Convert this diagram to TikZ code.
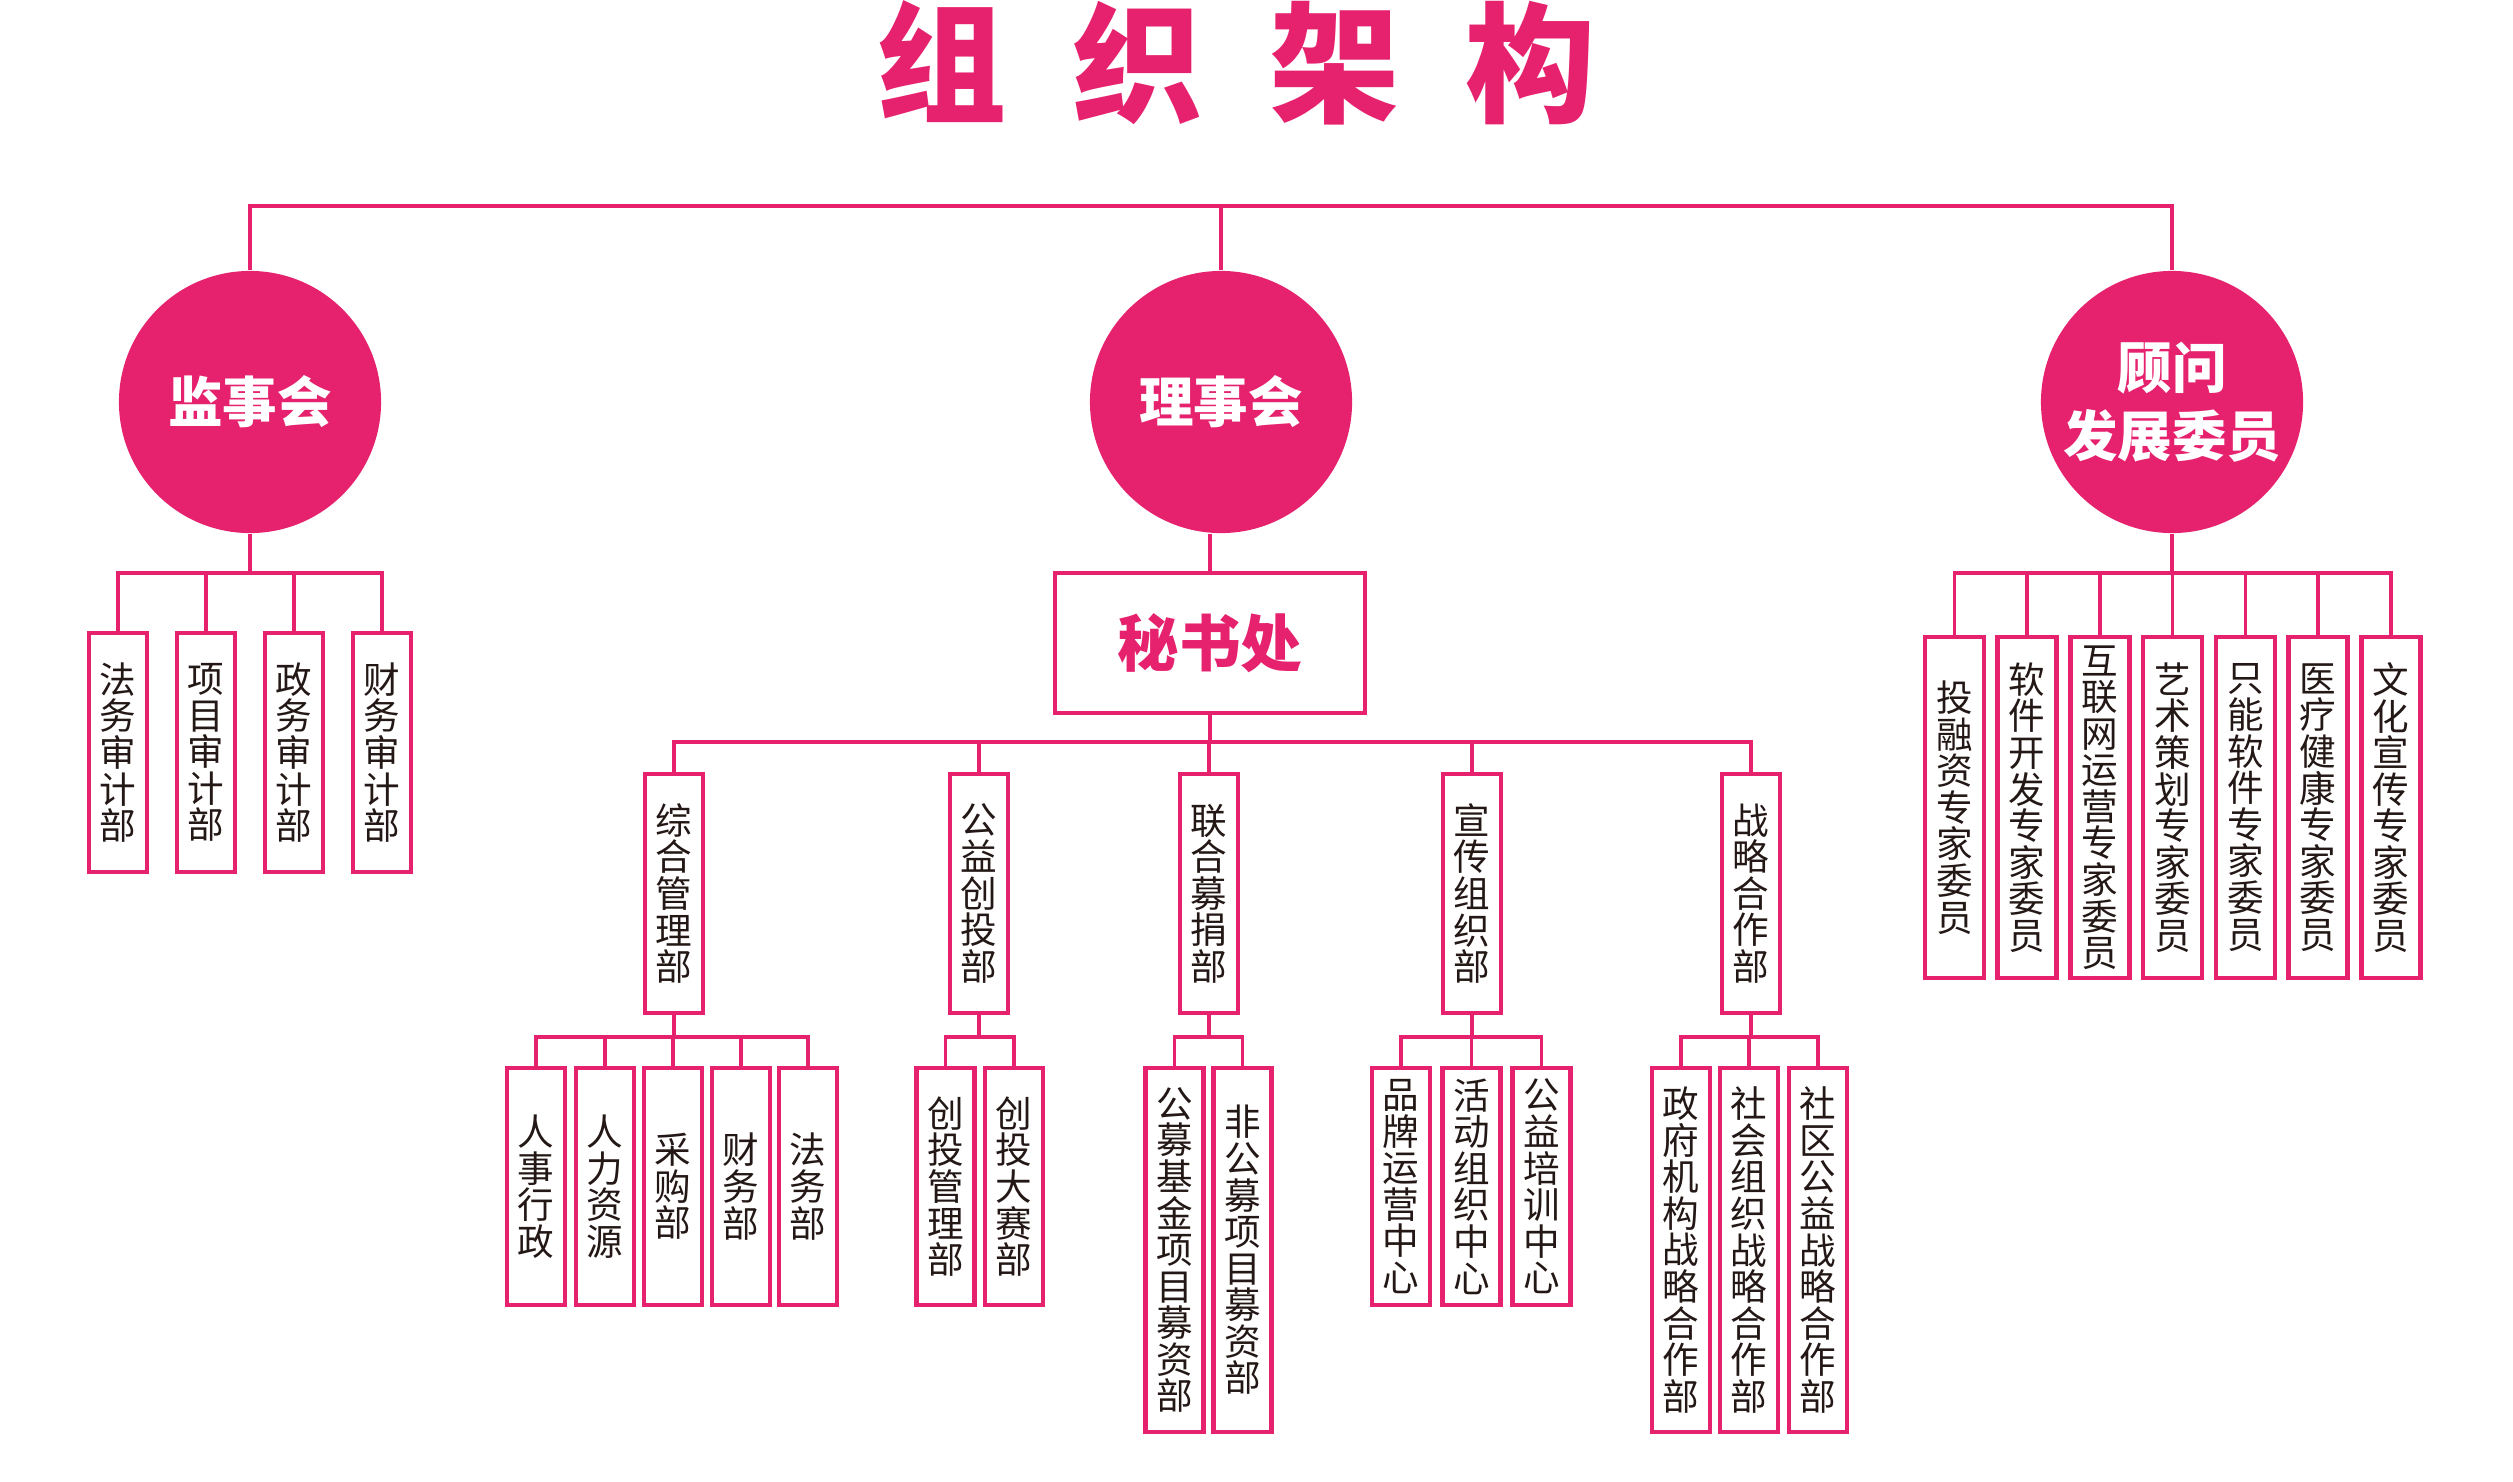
\documentclass[tikz,border=0pt]{standalone}
\usepackage{fontspec}
\setmainfont{Noto Sans CJK SC}
\definecolor{pk}{RGB}{230,33,110}
\definecolor{ink}{RGB}{35,24,21}
\ExplSyntaxOn
\NewDocumentCommand\vt{m}{
  \vbox{
    \lineskiplimit=-20pt
    \tl_map_inline:nn {#1} { \hbox_to_wd:nn {1em} { \hfil ##1 \hfil } }
  }
}
\ExplSyntaxOff
\tikzset{
  conn/.style={draw=pk, line width=1.1pt},
  topconn/.style={draw=pk, line width=1pt},
  bx/.style={draw=pk, line width=1.2pt, fill=white, inner sep=0pt, minimum width=0.58cm, text=ink,
    font=\fontsize{10.4pt}{10.4pt}\selectfont},
  bxl/.style={bx, minimum height=2.39cm},
  bxr/.style={bx, minimum height=3.41cm, minimum width=0.59cm},
  bxs/.style={bx, minimum height=2.37cm},
  bxg/.style={bx, minimum height=3.64cm},
  circ/.style={circle, fill=pk, minimum size=2.62cm, inner sep=0pt, text=white, align=center,
    font=\bfseries\fontsize{15.5pt}{19.3pt}\selectfont},
  sec/.style={draw=pk, line width=1.2pt, minimum width=3.10cm, minimum height=1.40cm, text=pk,
    font=\bfseries\fontsize{17.5pt}{17.5pt}\selectfont},
  ttl/.style={text=pk, inner sep=0pt, font=\bfseries\fontsize{37pt}{37pt}\selectfont}
}
\begin{document}
\begin{tikzpicture}[x=0.01cm, y=-0.01cm]
\useasboundingbox (0,0) rectangle (2513,1481);
% title
\node[ttl] (title) at (1236,63) {组\hspace{0.66cm}织\hspace{0.66cm}架\hspace{0.66cm}构};
% circles
\node[circ] (cL) at (250,402) {监事会};
\node[circ] (cM) at (1221,402) {理事会};
\node[circ] (cR) at (2172,402) {顾问\\发展委员};
\coordinate (topbus) at (0,206);
\draw[topconn] (cL.north) -- (cL.north |- topbus) -| (cR.north);
\draw[topconn] (cM.north) -- (cM.north |- topbus);
% left group
\coordinate (busL) at (0,573);
\node[bxl] (L1) at (118,752.5) {\vt{法务审计部}};
\node[bxl] (L2) at (206,752.5) {\vt{项目审计部}};
\node[bxl] (L3) at (294,752.5) {\vt{政务审计部}};
\node[bxl] (L4) at (382,752.5) {\vt{财务审计部}};
\draw[conn] (cL.south) -- (cL.south |- busL);
\draw[conn] (L1.north) -- (L1.north |- busL) -| (L4.north);
\draw[conn] (L2.north) -- (L2.north |- busL);
\draw[conn] (L3.north) -- (L3.north |- busL);
% right group
\coordinate (busR) at (0,573);
\node[bxr] (R1) at (1954.5,807.5) {\vt{投融资专家委员}};
\node[bxr] (R2) at (2027,807.5) {\vt{软件开发专家委员}};
\node[bxr] (R3) at (2100,807.5) {\vt{互联网运营专家委员}};
\node[bxr] (R4) at (2172.5,807.5) {\vt{艺术策划专家委员}};
\node[bxr] (R5) at (2245.5,807.5) {\vt{只能软件专家委员}};
\node[bxr] (R6) at (2318,807.5) {\vt{医疗健康专家委员}};
\node[bxr] (R7) at (2391,807.5) {\vt{文化宣传专家委员}};
\draw[conn] (cR.south) -- (cR.south |- busR);
\draw[conn] (R1.north) -- (R1.north |- busR) -| (R7.north);
\foreach \n in {R2,R3,R4,R5,R6} \draw[conn] (\n.north) -- (\n.north |- busR);
% secretariat
\node[sec] (S) at (1210,643) {秘书处};
\draw[conn] (S.north) -- (S.north |- cM.south);
\coordinate (busM) at (0,742);
\node[bxl] (M1) at (674,893.5) {\vt{综合管理部}};
\node[bxl] (M2) at (979,893.5) {\vt{公益创投部}};
\node[bxl] (M3) at (1209,893.5) {\vt{联合募捐部}};
\node[bxl] (M4) at (1472,893.5) {\vt{宣传组织部}};
\node[bxl] (M5) at (1751,893.5) {\vt{战略合作部}};
\draw[conn] (S.south) -- (S.south |- busM);
\draw[conn] (M1.north) -- (M1.north |- busM) -| (M5.north);
\foreach \n in {M2,M3,M4} \draw[conn] (\n.north) -- (\n.north |- busM);
% tier 3
\coordinate (bus3) at (0,1037);
\node[bxs] (A1) at (536,1186.5) {\vt{人事行政}};
\node[bxs] (A2) at (605,1186.5) {\vt{人力资源}};
\node[bxs] (A3) at (673,1186.5) {\vt{采购部}};
\node[bxs] (A4) at (741,1186.5) {\vt{财务部}};
\node[bxs] (A5) at (808,1186.5) {\vt{法务部}};
\draw[conn] (M1.south) -- (M1.south |- bus3);
\draw[conn] (A1.north) -- (A1.north |- bus3) -| (A5.north);
\foreach \n in {A2,A3,A4} \draw[conn] (\n.north) -- (\n.north |- bus3);
\node[bxs] (B1) at (945.5,1186.5) {\vt{创投管理部}};
\node[bxs] (B2) at (1014,1186.5) {\vt{创投大赛部}};
\draw[conn] (M2.south) -- (M2.south |- bus3);
\draw[conn] (B1.north) -- (B1.north |- bus3) -| (B2.north);
\node[bxg] (C1) at (1174.5,1250) {\vt{公募基金项目募资部}};
\node[bxg] (C2) at (1242.5,1250) {\vt{非公募项目募资部}};
\draw[conn] (M3.south) -- (M3.south |- bus3);
\draw[conn] (C1.north) -- (C1.north |- bus3) -| (C2.north);
\node[bxs] (D1) at (1401,1186.5) {\vt{品牌运营中心}};
\node[bxs] (D2) at (1471.5,1186.5) {\vt{活动组织中心}};
\node[bxs] (D3) at (1541.5,1186.5) {\vt{公益培训中心}};
\draw[conn] (M4.south) -- (M4.south |- bus3);
\draw[conn] (D1.north) -- (D1.north |- bus3) -| (D3.north);
\draw[conn] (D2.north) -- (D2.north |- bus3);
\node[bxg] (E1) at (1681,1250) {\vt{政府机构战略合作部}};
\node[bxg] (E2) at (1749,1250) {\vt{社会组织战略合作部}};
\node[bxg] (E3) at (1818,1250) {\vt{社区公益战略合作部}};
\draw[conn] (M5.south) -- (M5.south |- bus3);
\draw[conn] (E1.north) -- (E1.north |- bus3) -| (E3.north);
\draw[conn] (E2.north) -- (E2.north |- bus3);
\end{tikzpicture}
\end{document}
